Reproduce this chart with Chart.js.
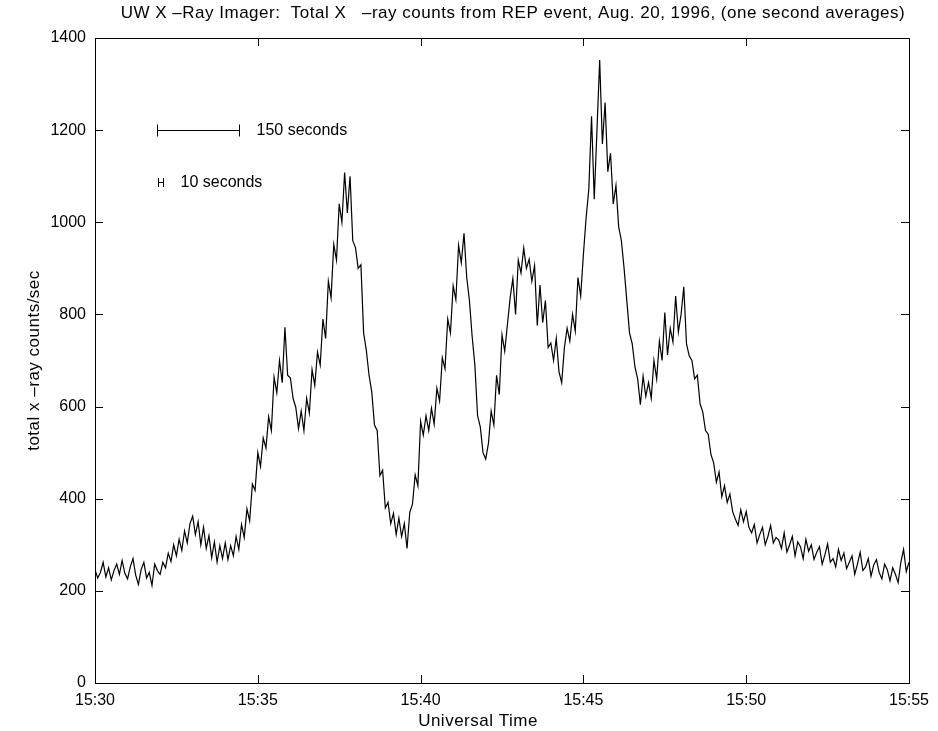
<!DOCTYPE html>
<html>
<head>
<meta charset="utf-8">
<title>UW X-Ray Imager - REP event, Aug. 20, 1996</title>
<script src="https://cdn.jsdelivr.net/npm/chart.js@4"></script>
<style>
  html, body { margin: 0; padding: 0; background: #fff; }
</style>
</head>
<body>
<canvas id="chart" width="938" height="731"></canvas>
<script>
  // Total X-ray counts, one value every STEP seconds from 15:30:00 UT
  const STEP = 5;
  const counts = [
    246, 228, 240, 262, 230, 250, 224, 244, 258, 236, 266, 238,        // 15:30
    226, 252, 270, 234, 214, 246, 262, 228, 240, 212, 258, 244,        // 15:31
    236, 262, 250, 282, 264, 300, 276, 312, 288, 330, 304, 346,        // 15:32
    362, 322, 350, 300, 338, 292, 320, 272, 306, 262, 298, 270,        // 15:33
    304, 268, 298, 276, 318, 290, 344, 316, 378, 352, 432, 418,        // 15:34
    500, 470, 532, 510, 578, 548, 664, 630, 700, 652, 772, 668,        // 15:35
    662, 618, 598, 552, 590, 548, 618, 586, 680, 646, 718, 690,        // 15:36
    790, 748, 872, 836, 952, 918, 1040, 1000, 1108, 1020, 1100, 960,   // 15:37
    945, 900, 908, 760, 722, 668, 632, 560, 548, 450, 462, 380,        // 15:38
    392, 346, 368, 322, 358, 318, 346, 292, 370, 388, 452, 428,        // 15:39
    568, 538, 580, 548, 596, 562, 640, 612, 706, 682, 790, 760,        // 15:40
    862, 832, 950, 912, 976, 880, 830, 752, 690, 580, 556, 500,        // 15:41
    486, 520, 590, 560, 668, 626, 756, 720, 778, 836, 878, 800,        // 15:42
    918, 890, 944, 900, 920, 872, 906, 776, 864, 782, 830, 728,        // 15:43
    738, 700, 748, 676, 652, 728, 770, 742, 800, 764, 880, 840,        // 15:44
    930, 1010, 1072, 1230, 1050, 1200, 1352, 1170, 1260, 1110, 1150, 1040, // 15:45
    1080, 990, 960, 900, 830, 760, 736, 686, 660, 604, 666, 622,       // 15:46
    652, 618, 700, 660, 742, 700, 804, 712, 770, 740, 840, 762,        // 15:47
    800, 860, 736, 710, 700, 660, 668, 606, 588, 548, 540, 496,        // 15:48
    478, 436, 458, 404, 428, 392, 410, 372, 356, 342, 376, 350,        // 15:49
    372, 338, 326, 344, 304, 322, 338, 300, 318, 342, 304, 316,        // 15:50
    310, 292, 326, 284, 300, 318, 276, 306, 296, 270, 312, 286,        // 15:51
    300, 268, 284, 296, 258, 278, 302, 262, 270, 252, 290, 266,        // 15:52
    282, 248, 262, 276, 236, 258, 284, 244, 252, 270, 232, 256,        // 15:53
    268, 240, 226, 258, 246, 222, 250, 236, 218, 262, 290, 242,        // 15:54
    262                                                                 // 15:55
  ];

  // axis ticks (seconds after 15:30 and counts/sec)
  const xTicks = [0, 300, 600, 900, 1200, 1500];
  const yTicks = [0, 200, 400, 600, 800, 1000, 1200, 1400];

  // time scale bars: [start s, length s, level counts/sec]
  const bar150 = [115, 150, 1200];
  const bar10 = [116, 10, 1088];

  const FONT = "'Liberation Sans', Arial, Helvetica, sans-serif";

  // box, inward ticks, scale bars and the text labels
  const decorations = {
    id: "decorations",
    afterDraw(chart) {
      const { ctx, chartArea: a, scales: { x, y } } = chart;
      ctx.save();
      ctx.strokeStyle = "#000";
      ctx.lineWidth = 1;
      ctx.strokeRect(a.left + 0.5, a.top + 0.5, a.right - a.left, a.bottom - a.top);

      ctx.beginPath();
      yTicks.forEach(v => {
        const py = Math.round(y.getPixelForValue(v)) + 0.5;
        ctx.moveTo(a.left, py); ctx.lineTo(a.left + 8, py);
        ctx.moveTo(a.right, py); ctx.lineTo(a.right - 8, py);
      });
      xTicks.forEach(v => {
        const px = Math.round(x.getPixelForValue(v)) + 0.5;
        ctx.moveTo(px, a.bottom); ctx.lineTo(px, a.bottom - 8);
        ctx.moveTo(px, a.top); ctx.lineTo(px, a.top + 8);
      });
      ctx.stroke();

      // scale bars
      const drawBar = (b, cap) => {
        const x0 = Math.round(x.getPixelForValue(b[0])) + 0.5;
        const x1 = Math.round(x.getPixelForValue(b[0] + b[1])) + 0.5;
        const py = Math.round(y.getPixelForValue(b[2])) + 0.5;
        ctx.beginPath();
        ctx.moveTo(x0, py); ctx.lineTo(x1, py);
        ctx.moveTo(x0, py - cap); ctx.lineTo(x0, py + cap);
        ctx.moveTo(x1, py - cap); ctx.lineTo(x1, py + cap);
        ctx.stroke();
        return [x1, py];
      };
      ctx.font = "16px " + FONT;
      ctx.fillStyle = "#000";
      ctx.textBaseline = "middle";
      ctx.textAlign = "left";
      let [bx, by] = drawBar(bar150, 6);
      ctx.fillText("150 seconds", bx + 17, by);
      [bx, by] = drawBar(bar10, 4.5);
      ctx.fillText("10 seconds", bx + 17, by);

      // titles
      ctx.font = "17px " + FONT;
      ctx.letterSpacing = "0.5px";
      ctx.textAlign = "center";
      ctx.fillText("UW X \u2013Ray Imager:  Total X   \u2013ray counts from REP event, Aug. 20, 1996, (one second averages)", 513, 13);
      ctx.fillText("Universal Time", 478, 721);
      ctx.translate(34, (a.top + a.bottom) / 2);
      ctx.rotate(-Math.PI / 2);
      ctx.fillText("total x \u2013ray counts/sec", 0, 0);
      ctx.restore();
    }
  };

  const ctx = document.getElementById("chart").getContext("2d");
  new Chart(ctx, {
    type: "line",
    data: {
      datasets: [{
        data: counts.map((c, i) => ({ x: i * STEP, y: c })),
        borderColor: "#000",
        borderWidth: 1.2,
        pointRadius: 0,
        tension: 0,
        fill: false
      }]
    },
    options: {
      responsive: false,
      animation: false,
      events: [],
      layout: { padding: { left: 0, right: 29, top: 38, bottom: 0 } },
      plugins: {
        legend: { display: false },
        tooltip: { enabled: false }
      },
      scales: {
        x: {
          type: "linear",
          min: 0,
          max: 1500,
          afterFit: s => { s.height = 48; },
          afterBuildTicks: s => { s.ticks = xTicks.map(v => ({ value: v })); },
          grid: { display: false, drawTicks: false },
          border: { display: false },
          ticks: {
            padding: 8,
            color: "#000",
            font: { family: FONT, size: 16 },
            maxRotation: 0,
            callback: v => "15:" + String(30 + v / 60)
          }
        },
        y: {
          min: 0,
          max: 1400,
          afterFit: s => { s.width = 95; },
          afterBuildTicks: s => { s.ticks = yTicks.map(v => ({ value: v })); },
          grid: { display: false, drawTicks: false },
          border: { display: false },
          ticks: {
            padding: 9,
            color: "#000",
            font: { family: FONT, size: 16 },
            callback: v => String(v)
          }
        }
      }
    },
    plugins: [decorations]
  });
</script>
</body>
</html>
